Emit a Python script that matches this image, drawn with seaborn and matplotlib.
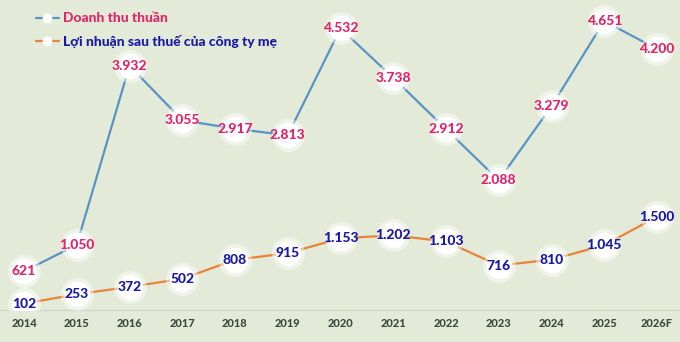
import matplotlib
matplotlib.use("Agg")
import matplotlib.pyplot as plt
import seaborn as sns
import pandas as pd
from matplotlib.lines import Line2D

years = ["2014", "2015", "2016", "2017", "2018", "2019", "2020", "2021", "2022", "2023", "2024", "2025", "2026F"]
revenue = [621, 1050, 3932, 3055, 2917, 2813, 4532, 3738, 2912, 2088, 3279, 4651, 4200]
profit = [102, 253, 372, 502, 808, 915, 1153, 1202, 1103, 716, 810, 1045, 1500]
rev_labels = ["621", "1.050", "3.932", "3.055", "2.917", "2.813", "4.532", "3.738", "2.912", "2.088", "3.279", "4.651", "4.200"]
prof_labels = ["102", "253", "372", "502", "808", "915", "1.153", "1.202", "1.103", "716", "810", "1.045", "1.500"]
series_names = ["Doanh thu thuần", "Lợi nhuận sau thuế của công ty mẹ"]

sns.set_style("white")
plt.rcParams["font.family"] = ["Lato", "DejaVu Sans"]

bg = "#E3EBD8"
blue = "#5B93C6"
orange = "#E8833A"
pink = "#E0266A"
navy = "#1A1AA6"

df = pd.DataFrame({"idx": list(range(len(years))) * 2,
                   "value": revenue + profit,
                   "series": [series_names[0]] * len(years) + [series_names[1]] * len(years)})

fig = plt.figure(figsize=(6.8, 3.42), dpi=100, facecolor=bg)
ax = fig.add_axes([0, 0.0936, 1, 0.9064])
ax.set_facecolor(bg)

sns.lineplot(data=df, x="idx", y="value", hue="series", palette=[blue, orange],
             linewidth=1.6, ax=ax, legend=False, zorder=2)

x = list(range(len(years)))
for vals in (revenue, profit):
    ax.scatter(x, vals, s=560, color="white", alpha=0.45, linewidths=0, zorder=3)
    ax.scatter(x, vals, s=340, color="white", linewidths=0, zorder=4)

for i, (v, t) in enumerate(zip(revenue, rev_labels)):
    ax.text(i, v, t, ha="center", va="center", color=pink, fontsize=10,
            fontweight="black", zorder=5)
for i, (v, t) in enumerate(zip(profit, prof_labels)):
    ax.text(i, v, t, ha="center", va="center", color=navy, fontsize=10,
            fontweight="black", zorder=5)

ax.set_xlim(-0.455, 12.436)
ax.set_ylim(0, 4990)
ax.set_xticks(x)
ax.set_xticklabels(years)
ax.set_yticks([])
ax.set_xlabel("")
ax.set_ylabel("")
for s in ["top", "left", "right"]:
    ax.spines[s].set_visible(False)
ax.spines["bottom"].set_color("#CDD6C4")
ax.spines["bottom"].set_linewidth(0.8)
ax.tick_params(axis="x", length=0, pad=6, labelsize=8, labelcolor="#3E4A3A")
for lbl in ax.get_xticklabels():
    lbl.set_fontweight("black")

handles = [Line2D([0], [0], color=blue, lw=1.6, marker="o", markersize=6,
                  markerfacecolor="white", markeredgecolor="white"),
           Line2D([0], [0], color=orange, lw=1.6, marker="o", markersize=6,
                  markerfacecolor="white", markeredgecolor="white")]
leg = ax.legend(handles, series_names, loc="upper left", bbox_to_anchor=(0.035, 1.0),
                frameon=False, handlelength=1.6, handletextpad=0.3, labelspacing=0.75,
                prop={"weight": "black", "size": 10})
leg.get_texts()[0].set_color(pink)
leg.get_texts()[1].set_color(navy)

fig.savefig("out.png", dpi=100, facecolor=bg)
